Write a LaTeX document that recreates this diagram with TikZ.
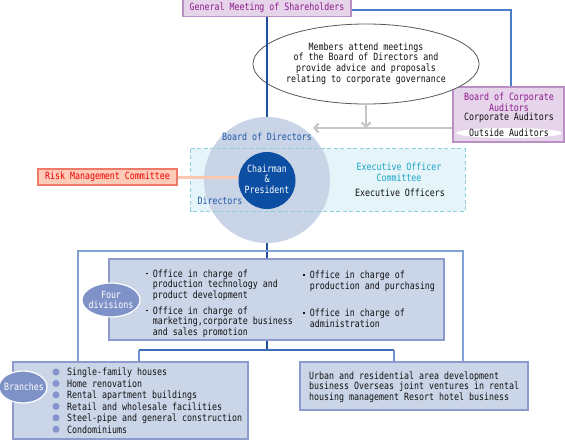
\documentclass[tikz,border=0pt]{standalone}
\usepackage{fontspec}
\setmainfont[FakeStretch=0.83]{DejaVu Sans Mono}
\usetikzlibrary{shapes.geometric,arrows.meta}
\definecolor{lav}{HTML}{E6D4EA}
\definecolor{lavd}{HTML}{B98FC4}
\definecolor{purp}{HTML}{8B1A8B}
\definecolor{trunk}{HTML}{1E4E9C}
\definecolor{medblue}{HTML}{4A7CC8}
\definecolor{lightline}{HTML}{82A2D4}
\definecolor{lowline}{HTML}{3E6DB5}
\definecolor{lowvert}{HTML}{6E90CC}
\definecolor{arrgray}{HTML}{C6C6C6}
\definecolor{bodfill}{HTML}{C9D4E6}
\definecolor{chairblue}{HTML}{0B4EA2}
\definecolor{dblue}{HTML}{1F56A8}
\definecolor{execfill}{HTML}{E4F4F8}
\definecolor{execbord}{HTML}{8FD0E0}
\definecolor{ecyan}{HTML}{1BA4C8}
\definecolor{riskfill}{HTML}{FDCBB8}
\definecolor{riskbord}{HTML}{F07A6A}
\definecolor{riskred}{HTML}{F00000}
\definecolor{riskline}{HTML}{FCC8B0}
\definecolor{bfill}{HTML}{CAD5E8}
\definecolor{bbord}{HTML}{8C9ACD}
\definecolor{ellblue}{HTML}{7F92C8}
\definecolor{bulblue}{HTML}{8494CC}
\definecolor{txtblack}{HTML}{111111}
\newcommand\lefttab[1]{\begin{tabular}{@{}l@{}}#1\end{tabular}}
\newcommand\centtab[1]{\begin{tabular}{@{}c@{}}#1\end{tabular}}
\newcommand\bulsq{\rule[2.6pt]{1.9pt}{1.9pt}}
\begin{document}
\begin{tikzpicture}[x=1pt,y=-1pt,
  font=\fontsize{10}{10}\selectfont, text=txtblack,
  txt/.style={inner sep=0pt},
  purplebox/.style={draw=lavd, fill=lav, line width=1.1pt, inner sep=0pt},
  bluebox/.style={draw=bbord, fill=bfill, line width=1.1pt, inner sep=0pt},
  tag/.style={ellipse, fill=ellblue, draw=white, line width=1.2pt, inner sep=0pt},
  grayarrow/.style={draw=arrgray, line width=2.2pt, -{Straight Barb[length=4pt,width=9pt]}},
  bultab/.style={txt, anchor=west}]
\useasboundingbox (0,0) rectangle (565,440);

% top
\node[purplebox, minimum width=168pt, minimum height=17pt, text=purp] (gm) at (267,8) {General Meeting of Shareholders};
\node[purplebox, minimum width=111pt, minimum height=55pt] (aud) at (508.5,114.5) {};
\node[ellipse, draw=black!65, fill=white, line width=0.8pt, minimum width=176pt, minimum height=80pt, inner sep=0pt] (memb) at (366,64) {\centtab{Members attend meetings\\of the Board of Directors and\\provide advice and proposals\\relating to corporate governance}};
\node[txt, text=purp] (audt) at (509,103.4) {\centtab{Board of Corporate\\Auditors}};
\node[txt] (auda) at (509,118.4) {\centtab{Corporate Auditors}};
\node[ellipse, fill=white, minimum width=106pt, minimum height=10pt, inner sep=0pt] (outa) at (509,133) {};
\node[txt] (outat) at (509,134.4) {\centtab{Outside Auditors}};

\draw[medblue, line width=1.3pt] (gm.east |- 0,10) -| ([xshift=2.5pt]aud.north);

\coordinate (arrL) at (313,128);
\draw[grayarrow] (memb.south) -- (memb.south |- arrL);
\draw[grayarrow] (aud.west |- arrL) -- (arrL);

% board of directors
\node[fill=execfill, minimum width=274pt, minimum height=62pt, inner sep=0pt] (exec) at (328,180) {};
\draw[trunk, line width=1.3pt] (gm.south) -- (267,118);
\node[circle, fill=bodfill, minimum size=126pt, inner sep=0pt] (bod) at (267,180) {};
\draw[execbord, line width=1pt, dash pattern=on 4pt off 2.5pt] (exec.north west) rectangle (exec.south east);
\node[txt, text=dblue] (bodt) at (267,138.4) {\centtab{Board of Directors}};
\node[txt, text=dblue] (dirt) at (220,202.4) {\centtab{Directors}};
\node[circle, fill=chairblue, minimum size=57pt, inner sep=0pt, text=white, font=\fontsize{10}{9.5}\selectfont] (chair) at (267,180.5) {\centtab{Chairman\\\&\\President}};
\node[txt, text=ecyan] (exect) at (399,173.4) {\centtab{Executive Officer\\Committee}};
\node[txt] (execo) at (400,194.4) {\centtab{Executive Officers}};

\node[draw=riskbord, fill=riskfill, text=riskred, line width=1.1pt, minimum width=139pt, minimum height=16pt, inner sep=0pt] (risk) at (107.5,177) {Risk Management Committee};
\draw[riskline, line width=3pt] (risk.east) -- (risk.east -| chair.west);

% four divisions
\node[bluebox, minimum width=335pt, minimum height=81pt] (div) at (276.5,299.5) {};
\draw[trunk, line width=1.3pt] (bod.south) -- (bod.south |- div.north);
\coordinate (jl) at (78,251);
\coordinate (jr) at (463,251);

\node[bultab] (d1) at (146,285.4) {\begin{tabular}{@{}l@{\hspace{4.8pt}}l@{}}\bulsq&Office in charge of\\&production technology and\\&product development\end{tabular}};
\node[bultab] (d2) at (146,322.4) {\begin{tabular}{@{}l@{\hspace{4.8pt}}l@{}}\bulsq&Office in charge of\\&marketing,corporate business\\&and sales promotion\end{tabular}};
\node[bultab] (d3) at (303,281.4) {\begin{tabular}{@{}l@{\hspace{4.8pt}}l@{}}\bulsq&Office in charge of\\&production and purchasing\end{tabular}};
\node[bultab] (d4) at (303,319.4) {\begin{tabular}{@{}l@{\hspace{4.8pt}}l@{}}\bulsq&Office in charge of\\&administration\end{tabular}};

\node[tag, minimum width=58pt, minimum height=34pt] (fourd) at (111,300) {};
\node[txt, text=white] (fourt) at (111,301.4) {\centtab{Four\\divisions}};

% bottom boxes
\node[bluebox, minimum width=235pt, minimum height=77pt] (br) at (130.5,400.5) {};
\node[bluebox, minimum width=228pt, minimum height=48pt] (rb) at (414,386) {};

\draw[lightline, line width=1.8pt] (br.north -| jl) -- (jl) -- (jr) -- (rb.north -| jr);

\coordinate (j2) at (267,350);
\coordinate (j2l) at (139,350);
\coordinate (j2r) at (394,350);
\draw[trunk, line width=1.3pt] (j2 |- div.south) -- (j2);
\draw[lowline, line width=1.3pt] (j2l) -- (j2r);
\draw[lowvert, line width=1.5pt] (j2l) -- (br.north -| j2l);
\draw[lowvert, line width=1.5pt] (j2r) -- (rb.north -| j2r);

\node[txt, anchor=west, font=\fontsize{10}{11.45}\selectfont] (brt) at (67,402.1) {\lefttab{Single-family houses\\Home renovation\\Rental apartment buildings\\Retail and wholesale facilities\\Steel-pipe and general construction\\Condominiums}};
\foreach \i in {0,...,5} \fill[bulblue] (56,372+11.45*\i) circle (3.5pt);

\node[tag, minimum width=48pt, minimum height=32pt] (brE) at (23,387) {};
\node[txt, text=white] (brEt) at (24,388.4) {\centtab{Branches}};

\node[txt, anchor=west] (rbt) at (309,387.4) {\lefttab{Urban and residential area development\\business Overseas joint ventures in rental\\housing management Resort hotel business}};
\end{tikzpicture}
\end{document}
